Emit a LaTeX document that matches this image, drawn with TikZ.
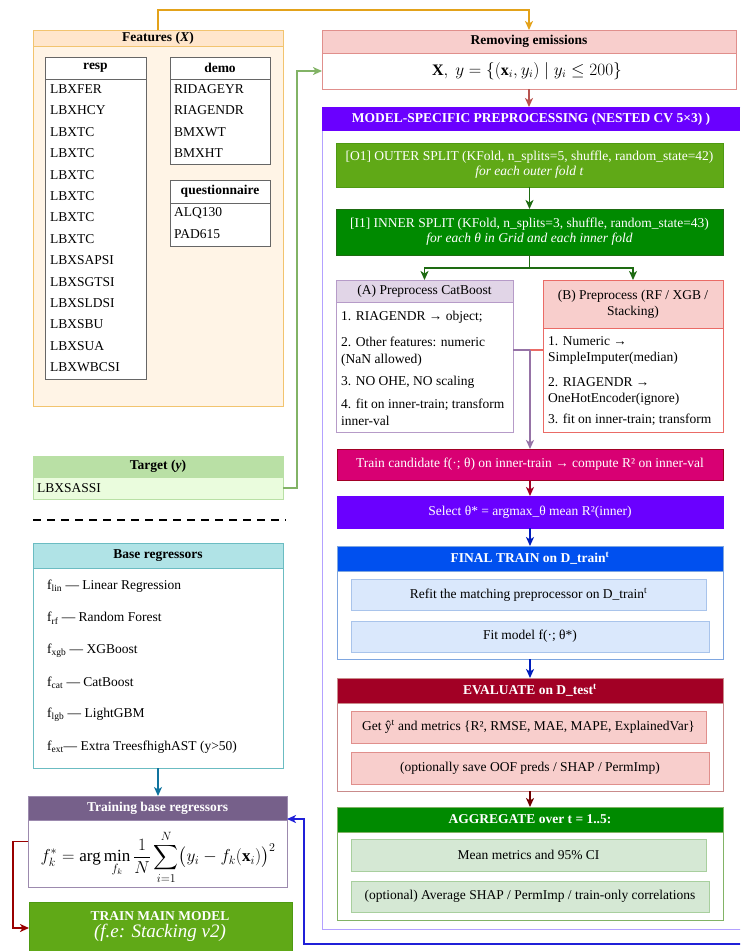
\documentclass[tikz,border=0pt]{standalone}
\usepackage{amsmath}
\usepackage{fontspec}
\setmainfont{Liberation Serif}
\usetikzlibrary{arrows.meta}

\newcommand{\bodysize}{\fontsize{13.5}{16}\selectfont}

\definecolor{featfill}{HTML}{FFF4E6}
\definecolor{feathd}{HTML}{FFE6CC}
\definecolor{featln}{HTML}{F2C46F}
\definecolor{orangeln}{HTML}{E3A21A}
\definecolor{tblln}{HTML}{666666}
\definecolor{greenln}{HTML}{82B366}
\definecolor{redfill}{HTML}{F8CECC}
\definecolor{redln}{HTML}{E08F8C}
\definecolor{redarr}{HTML}{B85450}
\definecolor{cvviolet}{HTML}{6A00FF}
\definecolor{cvln}{HTML}{B3A1FF}
\definecolor{o1green}{HTML}{60A917}
\definecolor{i1green}{HTML}{008A00}
\definecolor{dkgreen}{HTML}{1E6B12}
\definecolor{lilac}{HTML}{E1D5E7}
\definecolor{lilacln}{HTML}{B69BC8}
\definecolor{purpln}{HTML}{9673A6}
\definecolor{salmonln}{HTML}{EA6B66}
\definecolor{magentafill}{HTML}{D80073}
\definecolor{crimson}{HTML}{A20025}
\definecolor{cobalt}{HTML}{0050EF}
\definecolor{indigoarr}{HTML}{001DBC}
\definecolor{skyfill}{HTML}{DAE8FC}
\definecolor{skyln}{HTML}{A9C4EB}
\definecolor{finalln}{HTML}{7EA6E0}
\definecolor{evalln}{HTML}{C98B8B}
\definecolor{darkred}{HTML}{6F0000}
\definecolor{mintfill}{HTML}{D5E8D4}
\definecolor{mintln}{HTML}{A8CF9E}
\definecolor{tgthd}{HTML}{B9E0A5}
\definecolor{tgtfill}{HTML}{EAFCDD}
\definecolor{tealfill}{HTML}{B0E3E6}
\definecolor{tealln}{HTML}{6BBCC2}
\definecolor{tealarr}{HTML}{10739E}
\definecolor{plum}{HTML}{76608A}
\definecolor{plumln}{HTML}{9C8AAE}
\definecolor{loopblue}{HTML}{2020D8}
\definecolor{mainln}{HTML}{4E9A12}
\definecolor{backred}{HTML}{990000}

\begin{document}
\begin{tikzpicture}[
  x=1pt, y=-1pt,
  font=\bodysize,
  box/.style={anchor=north west, inner sep=0pt, outer sep=0pt, line width=1pt},
  hbar/.style={box, font=\bodysize\bfseries},
  cell/.style={anchor=west, inner sep=0pt},
  arr/.style={-{Stealth[length=9pt,width=8pt,inset=2.5pt]}, line width=1.6pt},
]
\clip (0,0) rectangle (740,951);

% inputs
\node[box, draw=featln, fill=featfill, minimum width=250, minimum height=376] (feat) at (33,30) {};
\node[hbar, draw=featln, fill=feathd, minimum width=250, minimum height=16] (feathead) at (33,30) {Features (\textit{X})};

\node[box, draw=tblln, fill=white, minimum width=101, minimum height=322] (resp) at (45,57) {};
\node[hbar, draw=tblln, minimum width=101, minimum height=22] (resphead) at (45,57) {resp};
\foreach[count=\k] \v in {LBXFER,LBXHCY,LBXTC,LBXTC,LBXTC,LBXTC,LBXTC,LBXTC,LBXSAPSI,LBXSGTSI,LBXSLDSI,LBXSBU,LBXSUA,LBXWBCSI}
  \node[cell] (resp\k) at (50,{67.6+21.4*\k}) {\v};

\node[box, draw=tblln, fill=white, minimum width=100, minimum height=107] (demo) at (170,57) {};
\node[hbar, draw=tblln, minimum width=100, minimum height=22] (demohead) at (170,57) {demo};
\foreach[count=\k] \v in {RIDAGEYR,RIAGENDR,BMXWT,BMXHT}
  \node[cell] (demo\k) at (174,{67.6+21.4*\k}) {\v};

\node[box, draw=tblln, fill=white, minimum width=100, minimum height=66] (quest) at (170,180) {};
\node[hbar, draw=tblln, minimum width=100, minimum height=23] (questhead) at (170,180) {questionnaire};
\foreach[count=\k] \v in {ALQ130,PAD615}
  \node[cell] (quest\k) at (174,{191.6+21.4*\k}) {\v};

\node[box, draw=tgthd, fill=tgtfill, minimum width=250, minimum height=43] (target) at (33,456) {};
\node[hbar, draw=tgthd, fill=tgthd, minimum width=250, minimum height=21] (tgthead) at (33,456) {Target (\textit{y})};
\node[cell] (tgtval) at (37,488) {LBXSASSI};

\draw[dash pattern=on 8pt off 6pt, line width=2pt] (33,520) -- (286,520);

% base models
\node[box, draw=tealln, fill=white, minimum width=250, minimum height=225] (base) at (33,543) {};
\node[hbar, draw=tealln, fill=tealfill, minimum width=250, minimum height=25] (basehead) at (33,543) {Base regressors};
\foreach[count=\k] \m/\lbl in {lin/Linear Regression,rf/Random Forest,xgb/XGBoost,cat/CatBoost,lgb/LightGBM}
  \node[cell] (reg\k) at (47,{553.8+32.2*\k}) {f\textsubscript{\m} — \lbl};
\node[cell] (reg6) at (47,747) {f\textsubscript{ext}— Extra TreesfhighAST (y>50)};

\node[box, draw=plumln, fill=white, minimum width=259, minimum height=91] (tb) at (28,796) {};
\node[hbar, draw=plumln, fill=plum, text=white, minimum width=259, minimum height=24] (tbhead) at (28,796) {Training base regressors};
\node[inner sep=0pt] (tbform) at (158,857) {\fontsize{17}{20}\selectfont$\displaystyle f_k^{*}=\arg\min_{f_k}\frac{1}{N}\sum_{i=1}^{N}\bigl(y_i-f_k(\mathbf{x}_i)\bigr)^2$};

\node[box, draw=mainln, fill=o1green, minimum width=263, minimum height=60] (mainmdl) at (29,902) {};
\node[text=white, align=center, inner sep=0pt] (mainlbl) at (160,927) {{\bfseries TRAIN MAIN MODEL}\\[1pt]{\fontsize{19}{21}\selectfont\itshape (f.e: Stacking v2)}};

% removing emissions
\node[box, draw=redln, fill=white, minimum width=414, minimum height=59] (rem) at (322,30) {};
\node[hbar, draw=redln, fill=redfill, minimum width=414, minimum height=23] (remhead) at (322,30) {Removing emissions};
\node (remform) at (527,71) {\fontsize{16}{18}\selectfont$\mathbf{X},\ y=\{(\mathbf{x}_i,y_i)\mid y_i\le 200\}$};

% nested cv
\node[box, draw=cvln, fill=white, minimum width=440, minimum height=822] (cv) at (322,107) {};
\node[hbar, fill=cvviolet, text=white, minimum width=418, minimum height=24] (cvhead) at (322,107) {MODEL-SPECIFIC PREPROCESSING (NESTED CV 5×3) )};

\node[box, draw=mainln, fill=o1green, text=white, minimum width=387, minimum height=44, align=center, font=\fontsize{13.5}{15}\selectfont] (outer) at (336,143) {[O1] OUTER SPLIT (KFold, n\_splits=5, shuffle, random\_state=42)\\\textit{for each outer fold t}};
\node[box, draw=dkgreen, fill=i1green, text=white, minimum width=387, minimum height=46, align=center, font=\fontsize{13.5}{15}\selectfont] (inner) at (336,209) {[I1] INNER SPLIT (KFold, n\_splits=3, shuffle, random\_state=43)\\\textit{for each θ in Grid and each inner fold}};

\node[box, draw=lilacln, fill=white, minimum width=177, minimum height=152] (prepA) at (336,280) {};
\node[box, draw=lilacln, fill=lilac, minimum width=177, minimum height=22] (prepAhead) at (336,280) {(A) Preprocess CatBoost};
\foreach[count=\k] \yy/\txt in {317/{1. RIAGENDR → object;},351.5/{2. Other features: numeric\\(NaN allowed)},382/{3. NO OHE, NO scaling},412.5/{4. fit on inner-train; transform\\inner-val}}
  \node[cell, align=left, font=\fontsize{13.5}{16.5}\selectfont] (stepA\k) at (341,\yy) {\txt};

\node[box, draw=salmonln, fill=white, minimum width=180, minimum height=152] (prepB) at (543,280) {};
\node[box, draw=salmonln, fill=redfill, minimum width=180, minimum height=48, align=center] (prepBhead) at (543,280) {(B) Preprocess (RF / XGB /\\Stacking)};
\foreach[count=\k] \yy/\txt in {350.5/{1. Numeric →\\SimpleImputer(median)},391.5/{2. RIAGENDR →\\OneHotEncoder(ignore)},420/{3. fit on inner-train; transform}}
  \node[cell, align=left, font=\fontsize{13.5}{16.5}\selectfont] (stepB\k) at (548,\yy) {\txt};

\node[box, draw=crimson, fill=magentafill, text=white, minimum width=386, minimum height=31] (cand) at (337,449) {Train candidate f(·; θ) on inner-train → compute R² on inner-val};
\node[box, draw=cvviolet, fill=cvviolet, text=white, minimum width=386, minimum height=32] (sel) at (337,496) {Select θ* = argmax\_θ mean R²(inner)};

\node[box, draw=finalln, fill=white, minimum width=386, minimum height=113] (final) at (337,546) {};
\node[hbar, draw=finalln, fill=cobalt, text=white, minimum width=386, minimum height=25] (finalhead) at (337,546) {FINAL TRAIN on D\_train\textsuperscript{t}};
\node[box, draw=skyln, fill=skyfill, minimum width=355, minimum height=31] (refit) at (351,579) {Refit the matching preprocessor on D\_train\textsuperscript{t}};
\node[box, draw=skyln, fill=skyfill, minimum width=358, minimum height=31] (fitm) at (351,621) {Fit model f(·; θ*)};

\node[box, draw=evalln, fill=white, minimum width=386, minimum height=113] (eval) at (337,678) {};
\node[hbar, draw=evalln, fill=crimson, text=white, minimum width=386, minimum height=25] (evalhead) at (337,678) {EVALUATE on D\_test\textsuperscript{t}};
\node[box, draw=redln, fill=redfill, minimum width=355, minimum height=32] (getm) at (351,711) {Get ŷ\textsuperscript{t} and metrics \{R², RMSE, MAE, MAPE, ExplainedVar\}};
\node[box, draw=redln, fill=redfill, minimum width=358, minimum height=32] (saveo) at (351,752) {(optionally save OOF preds / SHAP / PermImp)};

\node[box, draw=greenln, fill=white, minimum width=386, minimum height=113] (agg) at (337,807) {};
\node[hbar, draw=greenln, fill=i1green, text=white, minimum width=386, minimum height=25] (agghead) at (337,807) {AGGREGATE over t = 1..5:};
\node[box, draw=mintln, fill=mintfill, minimum width=355, minimum height=32] (meanm) at (351,839) {Mean metrics and 95\% CI};
\node[box, draw=mintln, fill=mintfill, minimum width=358, minimum height=31] (avg) at (351,881) {(optional) Average SHAP / PermImp / train-only correlations};

% connectors
\coordinate (gbend) at (297,71);
\coordinate (join) at (530,350);
\coordinate (offright) at (745,944);

\draw[arr, orangeln] (feathead.north) |- ([yshift=20pt]remhead.north) -- (remhead.north);
\draw[arr, greenln] (target.east |- tgtval) -| (gbend) -- (rem.west |- gbend);
\draw[arr, redarr] (rem.south) -- (rem.south |- cvhead.north);
\draw[arr, dkgreen] (outer) -- (inner);
\draw[arr, dkgreen] (inner.south) -- ++(0,13) -| (prepAhead.north);
\draw[arr, dkgreen] (inner.south) -- ++(0,13) -| (prepBhead.north);
\draw[line width=1.6pt, purpln] (prepA.east |- join) -- (join);
\draw[line width=1.6pt, salmonln] (prepB.west |- join) -- (join);
\draw[arr, purpln] (join) -- (join |- cand.north);
\draw[arr, crimson] (cand) -- (sel);
\draw[arr, indigoarr] (sel) -- (finalhead);
\draw[arr, indigoarr] (final) -- (evalhead);
\draw[arr, darkred] (eval) -- (agghead);
\draw[arr, tealarr] (base.south) -- (base.south |- tbhead.north);
\draw[arr, backred] (tb.west) -- ++(-15,0) |- ([yshift=4pt]mainmdl.west);
\draw[arr, loopblue] (offright) -| ([xshift=17pt,yshift=-23pt]tb.north east) -- ([yshift=-23pt]tb.north east);

\end{tikzpicture}
\end{document}
